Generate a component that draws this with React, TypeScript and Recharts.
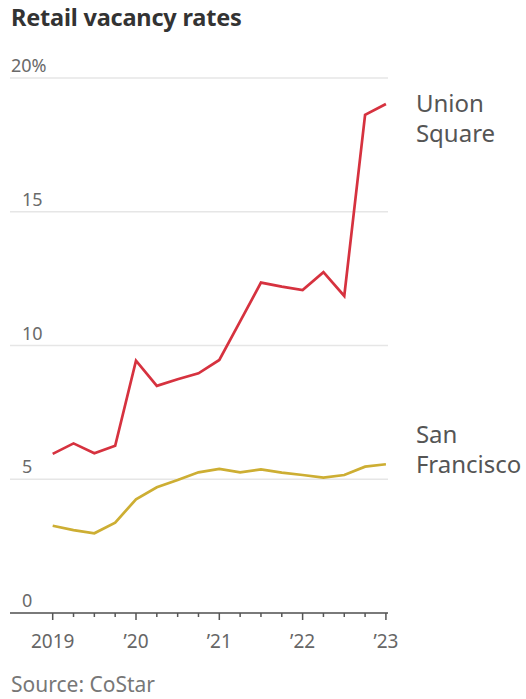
import { LineChart, Line, XAxis, YAxis, CartesianGrid, LabelList } from 'recharts';

// quarterly, Q1 2019 through Q1 2023
const quarters = [
  '2019 Q1', '2019 Q2', '2019 Q3', '2019 Q4',
  '2020 Q1', '2020 Q2', '2020 Q3', '2020 Q4',
  '2021 Q1', '2021 Q2', '2021 Q3', '2021 Q4',
  '2022 Q1', '2022 Q2', '2022 Q3', '2022 Q4',
  '2023 Q1',
];
const unionSquare = [5.95, 6.34, 5.97, 6.25, 9.43, 8.49, 8.74, 8.96, 9.46, 10.9, 12.35, 12.2, 12.07, 12.74, 11.85, 18.62, 19.03];
const sanFrancisco = [3.26, 3.1, 2.98, 3.38, 4.25, 4.7, 4.97, 5.26, 5.39, 5.26, 5.37, 5.25, 5.16, 5.06, 5.16, 5.47, 5.56];
const yearLabels = ['2019', '\u201920', '\u201921', '\u201922', '\u201923'];
const yTicks = [0, 5, 10, 15, 20];
const unionLabel = ['Union', 'Square'];
const sfLabel = ['San', 'Francisco'];

const RED = '#d6323f';
const GOLD = '#cdae33';
const FONT = '"Noto Sans", sans-serif';

const data = quarters.map((q, i) => ({ i, q, union: unionSquare[i], sf: sanFrancisco[i] }));

function XTick({ x, y, payload }: any) {
  const major = payload.value % 4 === 0;
  return (
    <g>
      <line x1={x} x2={x} y1={y} y2={y + (major ? 7 : 4)} stroke="#555" strokeWidth={1.5} />
      {major && (
        <text x={x} y={y + 35} textAnchor="middle" fill="#666" fontSize={19} fontFamily={FONT}>
          {yearLabels[payload.value / 4]}
        </text>
      )}
    </g>
  );
}

function YTick({ y, payload }: any) {
  const top = payload.value === 20;
  return (
    <text x={top ? 11 : 22} y={y - 6} fill="#6a6a6a" fontSize={18} fontFamily={FONT}>
      {top ? `${payload.value}%` : payload.value}
    </text>
  );
}

function endLabel(lines: string[], dy: number) {
  return (props: any) => {
    const { x, y, index } = props;
    if (index !== quarters.length - 1) return null;
    return (
      <text x={x + 30} y={y + dy} fill="#555" fontSize={24} fontFamily={FONT}>
        {lines.map((t, k) => (
          <tspan key={t} x={x + 30} dy={k === 0 ? 0 : 30}>{t}</tspan>
        ))}
      </text>
    );
  };
}

export default function App() {
  return (
    <div style={{ position: 'absolute', left: 0, top: 0, width: 526, height: 699, background: '#fff', fontFamily: FONT, overflow: 'hidden' }}>
      <div style={{ position: 'absolute', left: 11, top: 6, fontSize: 23.5, lineHeight: '23px', fontWeight: 700, color: '#333', letterSpacing: -0.2 }}>
        Retail vacancy rates
      </div>
      <LineChart width={526} height={699} data={data} margin={{ top: 78, right: 138, bottom: 0, left: 0 }}>
        <CartesianGrid vertical={false} stroke="#e6e6e6" strokeWidth={1.5} />
        <XAxis
          dataKey="i"
          type="number"
          domain={[-2.05, 16.1]}
          ticks={quarters.map((_, i) => i)}
          interval={0}
          height={86}
          tickSize={0}
          tickMargin={0}
          tickLine={false}
          axisLine={{ stroke: '#555', strokeWidth: 1.5 }}
          tick={<XTick />}
        />
        <YAxis type="number" domain={[0, 20]} ticks={yTicks} interval={0} width={10} axisLine={false} tickLine={false} tick={<YTick />} />
        <Line dataKey="sf" stroke={GOLD} strokeWidth={2.7} dot={false} isAnimationActive={false}>
          <LabelList dataKey="sf" content={endLabel(sfLabel, -21)} />
        </Line>
        <Line dataKey="union" stroke={RED} strokeWidth={2.7} dot={false} isAnimationActive={false}>
          <LabelList dataKey="union" content={endLabel(unionLabel, 8)} />
        </Line>
      </LineChart>
      <div style={{ position: 'absolute', left: 11, top: 674, fontSize: 21, lineHeight: '21px', color: '#777' }}>
        Source: CoStar
      </div>
    </div>
  );
}
